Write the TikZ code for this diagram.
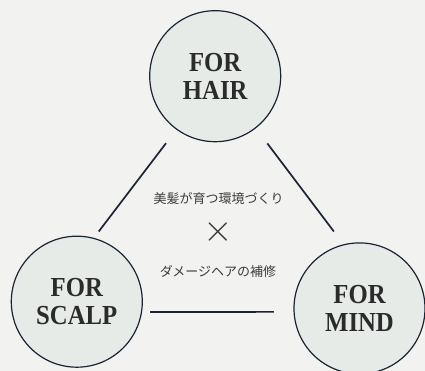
\documentclass[tikz,border=0pt]{standalone}
\usepackage{fix-cm}
\usepackage{fontspec}
\setmainfont{Liberation Serif}
\newfontfamily\jpfont{Noto Sans CJK JP}
\newfontfamily\topicfont[FakeStretch=0.9]{Liberation Serif}
\usetikzlibrary{positioning}
\definecolor{bgcol}{HTML}{F2F2F0}
\definecolor{fillcol}{HTML}{E6EBE8}
\definecolor{linecol}{HTML}{1B2433}
\definecolor{textcol}{HTML}{2B2B2B}
\definecolor{jpcol}{HTML}{3C3C3C}
\tikzset{topic/.style={circle,draw=linecol,fill=fillcol,line width=1.2pt,minimum size=131pt,inner sep=0pt,align=center,text=textcol,font=\topicfont\bfseries\fontsize{27.5}{28.3}\selectfont}}
\tikzset{link/.style={draw=linecol,line width=1.7pt}}
\tikzset{note/.style={inner sep=0pt,text=jpcol,font=\jpfont\fontsize{13}{13}\selectfont}}

\begin{document}
\begin{tikzpicture}[x=1pt,y=1pt]
    \fill[bgcol] (0,0) rectangle (425,371);
    \useasboundingbox (0,0) rectangle (425,371);

    \node[topic] (hair) at (215.2,294.8) {FOR\\HAIR};
    \node[topic] (scalp) at (76.8,69.3) {FOR\\SCALP};
    \node[topic] (mind) at (359.5,62.6) {FOR\\MIND};

    \node[note] (env) at (218.5,172) {美髪が育つ環境づくり};
    \node[note,font=\fontsize{38}{38}\selectfont] (cross) at (218.3,139) {$\times$};
    \node[note] (repair) at (218,99) {ダメージヘアの補修};

    \draw [link,shorten <=17pt,shorten >=8pt] (hair.234) to (scalp.75);
    \draw [link,shorten <=19pt,shorten >=16pt] (hair.308) to (mind.104);
    \draw [link,shorten <=8pt,shorten >=19.5pt] (scalp.-9) to (mind.183);
\end{tikzpicture}
\end{document}
